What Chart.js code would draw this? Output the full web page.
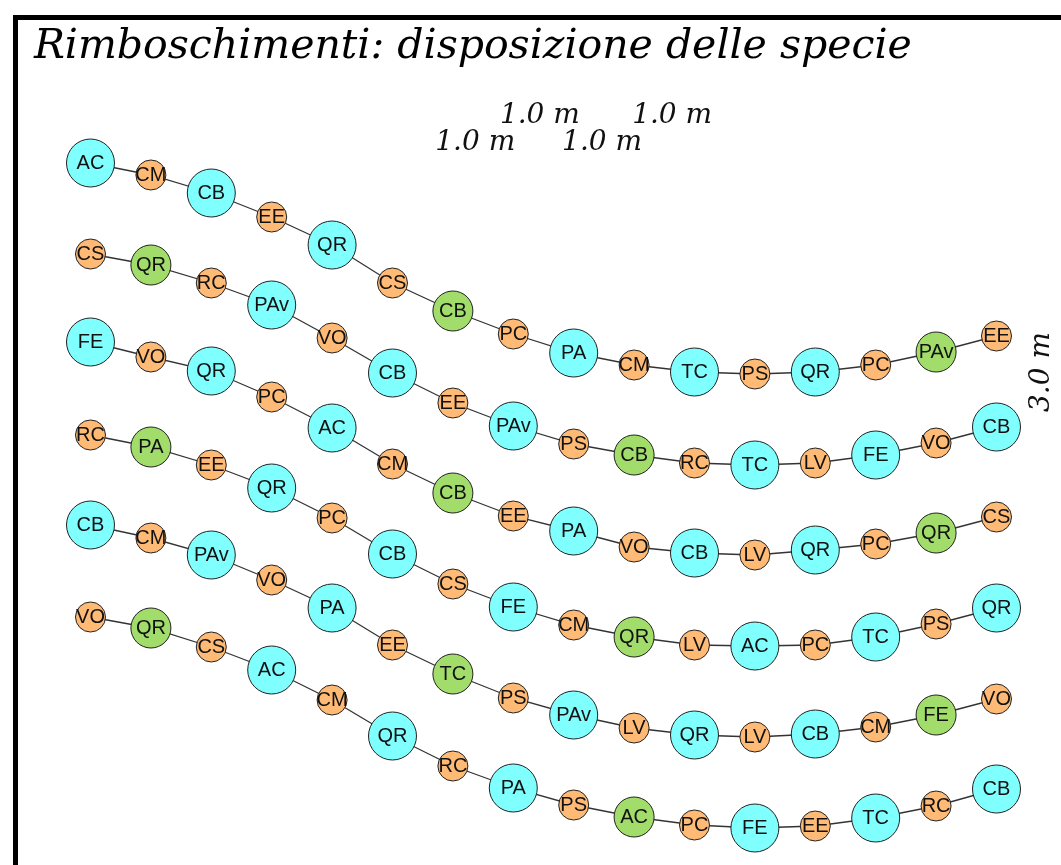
<!DOCTYPE html>
<html>
<head>
<meta charset="utf-8">
<script src="https://cdn.jsdelivr.net/npm/chart.js@4/dist/chart.umd.min.js"></script>
<style>
  html, body { margin: 0; padding: 0; background: #ffffff; }
  #wrap { width: 1061px; height: 865px; position: relative; }
</style>
</head>
<body>
<div id="wrap"><canvas id="c"></canvas></div>
<script>
// ---------------- DATA ----------------
const chartTitle = 'Rimboschimenti: disposizione delle specie';

// planting positions along each row (1.0 m apart)
const positions = [0, 1, 2, 3, 4, 5, 6, 7, 8, 9, 10, 11, 12, 13, 14, 15];

// species in each row
const row1Species = ['AC','CM','CB','EE','QR','CS','CB','PC','PA','CM','TC','PS','QR','PC','PAv','EE'];
const row2Species = ['CS','QR','RC','PAv','VO','CB','EE','PAv','PS','CB','RC','TC','LV','FE','VO','CB'];
const row3Species = ['FE','VO','QR','PC','AC','CM','CB','EE','PA','VO','CB','LV','QR','PC','QR','CS'];
const row4Species = ['RC','PA','EE','QR','PC','CB','CS','FE','CM','QR','LV','AC','PC','TC','PS','QR'];
const row5Species = ['CB','CM','PAv','VO','PA','EE','TC','PS','PAv','LV','QR','LV','CB','CM','FE','VO'];
const row6Species = ['VO','QR','CS','AC','CM','QR','RC','PA','PS','AC','PC','FE','EE','TC','RC','CB'];

// plant class of each node: L = large, M = medium, S = small
const row1Class = ['L','S','L','S','L','S','M','S','L','S','L','S','L','S','M','S'];
const row2Class = ['S','M','S','L','S','L','S','L','S','M','S','L','S','L','S','L'];
const row3Class = ['L','S','L','S','L','S','M','S','L','S','L','S','L','S','M','S'];
const row4Class = ['S','M','S','L','S','L','S','L','S','M','S','L','S','L','S','L'];
const row5Class = ['L','S','L','S','L','S','M','S','L','S','L','S','L','S','M','S'];
const row6Class = ['S','M','S','L','S','L','S','L','S','M','S','L','S','L','S','L'];

// row offset (downhill) of each node
const row1Offset = [163,175,193,217,245,283,311,334,353,365,372,374,372,365,352,336];
const row2Offset = [254,265,283,305,338,373,403,426,444,455,463,465,463,455,443,427];
const row3Offset = [342,357,371,397,428,464,493,516,531,547,553,555,550,544,533,517];
const row4Offset = [435,447,465,488,518,554,584,607,625,637,645,646,645,637,624,608];
const row5Offset = [525,538,555,580,608,645,674,698,715,728,735,737,734,727,715,699];
const row6Offset = [617,628,647,670,700,736,766,788,805,817,825,828,826,818,806,789];

// spacing annotations
const spacingLabels = ['1.0 m', '1.0 m', '1.0 m', '1.0 m'];
const rowSpacingLabel = '3.0 m';

// ---------------- STYLE ----------------
const classStyle = {
  L: { r: 24, fill: '#80FFFF' },
  M: { r: 20, fill: '#A2DC6A' },
  S: { r: 15, fill: '#FFBA75' }
};
const spacingLabelPos = [ {x: 6.37, y: 150}, {x: 7.44, y: 123}, {x: 8.47, y: 150}, {x: 9.63, y: 123} ];
const rowSpacingPos = { x: 15.75, y: 372 };

const rows = [
  [row1Species, row1Class, row1Offset],
  [row2Species, row2Class, row2Offset],
  [row3Species, row3Class, row3Offset],
  [row4Species, row4Class, row4Offset],
  [row5Species, row5Class, row5Offset],
  [row6Species, row6Class, row6Offset]
];

const datasets = rows.map(([sp, cl, off], k) => ({
  label: 'Fila ' + (k + 1),
  species: sp,
  data: positions.map((p, i) => ({ x: p, y: off[i] })),
  borderColor: '#333333',
  borderWidth: 1.3,
  pointRadius: cl.map(c => classStyle[c].r),
  pointHoverRadius: cl.map(c => classStyle[c].r),
  pointBackgroundColor: cl.map(c => classStyle[c].fill),
  pointBorderColor: '#222222',
  pointBorderWidth: 1,
  tension: 0,
  fill: false,
  clip: false
}));

const decor = {
  id: 'decor',
  beforeDraw(chart) {
    const ctx = chart.ctx;
    ctx.save();
    ctx.fillStyle = '#ffffff';
    ctx.fillRect(0, 0, chart.width, chart.height);
    ctx.restore();
  },
  afterDatasetsDraw(chart) {
    const ctx = chart.ctx;
    ctx.save();
    // node labels
    ctx.font = '20px "Liberation Sans", Arial, sans-serif';
    ctx.fillStyle = '#111111';
    ctx.textAlign = 'center';
    ctx.textBaseline = 'middle';
    chart.data.datasets.forEach((ds, di) => {
      const meta = chart.getDatasetMeta(di);
      meta.data.forEach((pt, i) => {
        ctx.fillText(ds.species[i], pt.x, pt.y + 0.5);
      });
    });
    const xs = chart.scales.x, ys = chart.scales.y;
    // spacing annotations
    ctx.font = 'italic 28px "DejaVu Serif", serif';
    ctx.textBaseline = 'alphabetic';
    spacingLabels.forEach((t, i) => {
      ctx.fillText(t, xs.getPixelForValue(spacingLabelPos[i].x), ys.getPixelForValue(spacingLabelPos[i].y));
    });
    ctx.save();
    ctx.translate(xs.getPixelForValue(rowSpacingPos.x), ys.getPixelForValue(rowSpacingPos.y));
    ctx.rotate(-Math.PI / 2);
    ctx.textBaseline = 'middle';
    ctx.fillText(rowSpacingLabel, 0, 0);
    ctx.restore();
    // frame
    ctx.strokeStyle = '#000000';
    ctx.lineWidth = 5;
    ctx.beginPath();
    ctx.moveTo(15.5, chart.height + 5);
    ctx.lineTo(15.5, 17.5);
    ctx.lineTo(chart.width + 5, 17.5);
    ctx.stroke();
    // title
    ctx.font = 'italic 41px "DejaVu Serif", serif';
    ctx.textAlign = 'left';
    ctx.textBaseline = 'alphabetic';
    ctx.fillStyle = '#000000';
    ctx.fillText(chartTitle, 34, 58);
    ctx.restore();
  }
};

new Chart(document.getElementById('c'), {
  type: 'line',
  data: { datasets },
  options: {
    responsive: true,
    maintainAspectRatio: false,
    animation: false,
    events: [],
    layout: { padding: 0, autoPadding: false },
    plugins: { legend: { display: false }, tooltip: { enabled: false }, title: { display: false } },
    scales: {
      x: { type: 'linear', min: -1.4983, max: 16.068, display: false },
      y: { type: 'linear', min: 0, max: 865, reverse: true, display: false }
    }
  },
  plugins: [decor]
});
</script>
</body>
</html>
